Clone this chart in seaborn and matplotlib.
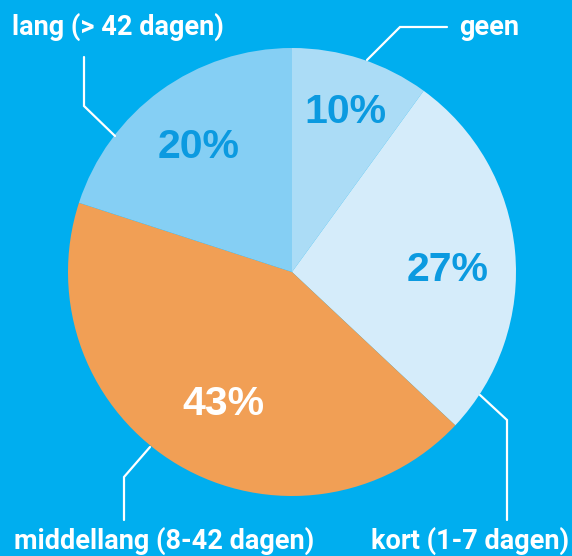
import numpy as np
import seaborn as sns
import matplotlib.pyplot as plt

OUTPUT_FILE = "out.png"
W, H = 572, 556

categories = ["geen", "kort (1-7 dagen)", "middellang (8-42 dagen)", "lang (> 42 dagen)"]
shares = [10, 27, 43, 20]
pct_labels = ["10%", "27%", "43%", "20%"]

BG = "#00aeef"
slice_colors = ["#abdcf6", "#d5ecfa", "#f19f55", "#85cff4"]
pct_colors = ["#0b9ae0", "#0b9ae0", "white", "#0b9ae0"]
# radial distance (fraction of radius) and angle tweak (deg) for each pct label
pct_dist = [0.766, 0.694, 0.650, 0.711]
pct_turn = [0.0, -3.2, 2.5, 0.0]


def flip(y):
    return H - y


def draw_pie(ax):
    cx, cy, r = 292, flip(272), 224
    wedges, _ = ax.pie(shares, colors=slice_colors, startangle=90,
                       counterclock=False, center=(cx, cy), radius=r,
                       wedgeprops=dict(linewidth=0), frame=True)
    # percentage labels inside each wedge
    for w, lab, col, d, t in zip(wedges, pct_labels, pct_colors, pct_dist, pct_turn):
        ang = np.deg2rad((w.theta1 + w.theta2) / 2 + t)
        x = cx + d * r * np.cos(ang)
        y = cy + d * r * np.sin(ang) - 14.5
        ax.text(x, y, lab, ha="center", va="baseline", color=col, fontsize=29.5,
                fontweight="bold", family=["Liberation Sans", "DejaVu Sans"])


def draw_callouts(ax):
    lw = 1.6
    # leader lines (image pixel coords)
    lines = [
        [(367, 60), (400, 27), (447, 27)],          # geen
        [(480, 395), (507, 420), (507, 520)],       # kort
        [(150, 447), (124, 477), (124, 520)],       # middellang
        [(115, 136), (84, 106), (84, 57)],          # lang
    ]
    for pts in lines:
        xs = [p[0] for p in pts]
        ys = [flip(p[1]) for p in pts]
        ax.plot(xs, ys, color="white", lw=lw, solid_joinstyle="miter")

    label_pos = [
        (459, 35, "left"),
        (569, 549, "right"),
        (14, 549, "left"),
        (12, 35, "left"),
    ]
    for cat, (x, y, ha) in zip(categories, label_pos):
        ax.text(x, flip(y), cat, ha=ha, va="baseline", color="white",
                fontsize=19.5, fontweight="bold", family=["Roboto", "DejaVu Sans"])


def main():
    sns.set_style("white")
    fig = plt.figure(figsize=(W / 100, H / 100), dpi=100, facecolor=BG)
    ax = fig.add_axes([0, 0, 1, 1])
    ax.set_facecolor(BG)
    draw_pie(ax)
    draw_callouts(ax)
    ax.set_xlim(0, W)
    ax.set_ylim(0, H)
    ax.set_aspect("equal")
    ax.axis("off")
    fig.savefig(OUTPUT_FILE, dpi=100, facecolor=BG)


if __name__ == "__main__":
    main()
